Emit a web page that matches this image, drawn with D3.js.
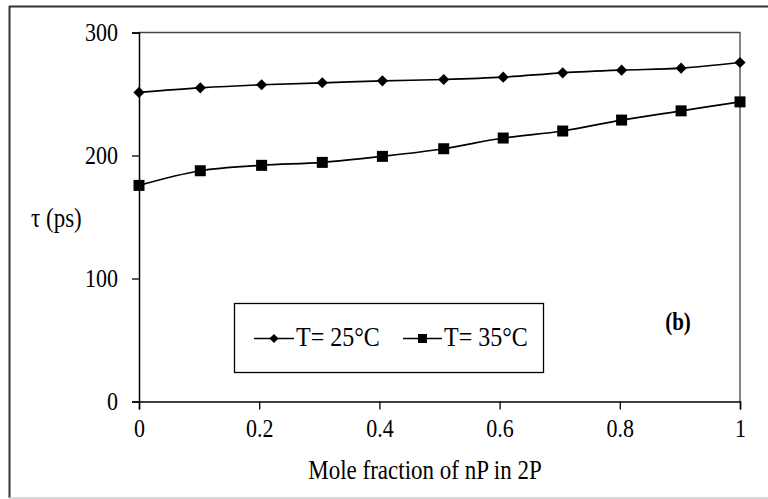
<!DOCTYPE html>
<html>
<head>
<meta charset="utf-8">
<script src="https://cdn.jsdelivr.net/npm/d3@7"></script>
<style>
  html, body { margin: 0; padding: 0; background: #fff; }
  svg { display: block; }
  text { font-family: "Liberation Serif", "Times New Roman", serif; fill: #000; }
</style>
</head>
<body>
<div id="chart"></div>
<script>
// mole fraction of nP in 2P
const fractions = [0, 0.102, 0.204, 0.305, 0.405, 0.507, 0.606, 0.705, 0.803, 0.902, 1];
// lifetime tau (ps)
const tau25 = [251.3, 255.0, 257.5, 259.1, 260.7, 261.8, 263.7, 267.2, 269.4, 271.0, 275.6];
const tau35 = [175.7, 187.6, 192.0, 194.4, 199.3, 205.5, 214.2, 219.9, 228.8, 236.3, 243.6];
const xTicks = [0, 0.2, 0.4, 0.6, 0.8, 1];
const yTicks = [0, 100, 200, 300];
const seriesNames = ["T= 25°C", "T= 35°C"];

(function () {
    const width = 768;
    const height = 499;
    const plot = { left: 139, right: 740, top: 32.5, bottom: 401.5 };
    const stretch = 1.15; // the source text is slightly tall

    const svg = d3.select("#chart").append("svg")
        .attr("width", width)
        .attr("height", height);

    // text placed at (x, baseline) and stretched vertically
    function label(parent, tx, ty, str, size) {
        return parent.append("text")
            .attr("transform", `translate(${tx},${ty}) scale(1,${stretch})`)
            .style("font-size", size + "px")
            .text(str);
    }

    // outer frame
    svg.append("line").attr("x1", 9).attr("x2", 768).attr("y1", 6.5).attr("y2", 6.5)
        .attr("stroke", "#333").attr("stroke-width", 2);
    svg.append("line").attr("x1", 9.5).attr("x2", 9.5).attr("y1", 6).attr("y2", 498)
        .attr("stroke", "#333").attr("stroke-width", 2);
    svg.append("line").attr("x1", 9).attr("x2", 768).attr("y1", 498).attr("y2", 498)
        .attr("stroke", "#ccc").attr("stroke-width", 1.5);

    const x = d3.scaleLinear().domain([0, 1]).range([plot.left, plot.right]);
    const y = d3.scaleLinear().domain([0, 300]).range([plot.bottom, plot.top]);

    // plot area border (top / right)
    svg.append("path")
        .attr("d", `M${plot.left},${plot.top}H${plot.right}V${plot.bottom}`)
        .attr("fill", "none")
        .attr("stroke", "#444")
        .attr("stroke-width", 1.3);

    // axes
    const xAxis = svg.append("g")
        .attr("transform", `translate(0,${plot.bottom})`)
        .call(d3.axisBottom(x).tickValues(xTicks).tickSize(8)
            .tickFormat(d => d === 0 || d === 1 ? d3.format("d")(d) : d3.format(".1f")(d)));
    xAxis.select(".domain").attr("stroke", "#000").attr("stroke-width", 1.5);
    xAxis.selectAll(".tick line").attr("stroke", "#000").attr("stroke-width", 1.3);
    xAxis.selectAll(".tick text")
        .attr("y", 0).attr("dy", null)
        .attr("transform", `translate(0,35.5) scale(1,${stretch})`)
        .style("font-size", "22px")
        .style("font-family", "Liberation Serif");

    const yAxis = svg.append("g")
        .attr("transform", `translate(${plot.left},0)`)
        .call(d3.axisLeft(y).tickValues(yTicks).tickSize(7));
    yAxis.select(".domain").attr("stroke", "#000").attr("stroke-width", 1.5);
    yAxis.selectAll(".tick line").attr("stroke", "#000").attr("stroke-width", 1.3);
    yAxis.selectAll(".tick text")
        .attr("x", 0).attr("dy", null)
        .attr("transform", `translate(-21,7.5) scale(1,${stretch})`)
        .style("font-size", "22px")
        .style("font-family", "Liberation Serif");

    // axis titles
    label(svg, 425, 479, "Mole fraction of nP in 2P", 23).attr("text-anchor", "middle");
    label(svg, 31, 227, "τ (ps)", 23);

    // series
    const line = d3.line()
        .x(d => x(d[0]))
        .y(d => y(d[1]))
        .curve(d3.curveCatmullRom.alpha(0.5));

    const s25 = fractions.map((f, i) => [f, tau25[i]]);
    const s35 = fractions.map((f, i) => [f, tau35[i]]);

    svg.append("path").datum(s25).attr("d", line)
        .attr("fill", "none").attr("stroke", "#000").attr("stroke-width", 1.7);
    svg.append("path").datum(s35).attr("d", line)
        .attr("fill", "none").attr("stroke", "#000").attr("stroke-width", 1.7);

    svg.selectAll(".d25")
        .data(s25)
        .join("path")
        .attr("class", "d25")
        .attr("transform", d => `translate(${x(d[0])},${y(d[1])}) rotate(45)`)
        .attr("d", d3.symbol().type(d3.symbolSquare).size(62))
        .attr("fill", "#000");

    svg.selectAll(".s35")
        .data(s35)
        .join("rect")
        .attr("class", "s35")
        .attr("x", d => x(d[0]) - 5.5)
        .attr("y", d => y(d[1]) - 5.5)
        .attr("width", 11)
        .attr("height", 11)
        .attr("fill", "#000");

    // legend
    const legend = svg.append("g");
    legend.append("rect")
        .attr("x", 234.5).attr("y", 303.5)
        .attr("width", 309).attr("height", 69)
        .attr("fill", "#fff").attr("stroke", "#000").attr("stroke-width", 1.3);

    const ly = 338.5;
    const items = [
        { x0: 254, x1: 294, tx: 296, marker: "diamond" },
        { x0: 403, x1: 442, tx: 444, marker: "square" }
    ];
    items.forEach((it, i) => {
        legend.append("line")
            .attr("x1", it.x0).attr("x2", it.x1).attr("y1", ly).attr("y2", ly)
            .attr("stroke", "#000").attr("stroke-width", 1.7);
        const cx = (it.x0 + it.x1) / 2;
        if (it.marker === "diamond") {
            legend.append("path")
                .attr("transform", `translate(${cx},${ly}) rotate(45)`)
                .attr("d", d3.symbol().type(d3.symbolSquare).size(42))
                .attr("fill", "#000");
        } else {
            legend.append("rect")
                .attr("x", cx - 4.5).attr("y", ly - 4.5)
                .attr("width", 9).attr("height", 9)
                .attr("fill", "#000");
        }
        label(legend, it.tx, ly + 7.5, seriesNames[i], 24);
    });

    // panel tag
    label(svg, 678, 330, "(b)", 21)
        .attr("text-anchor", "middle")
        .style("font-weight", "bold");
})();
</script>
</body>
</html>
